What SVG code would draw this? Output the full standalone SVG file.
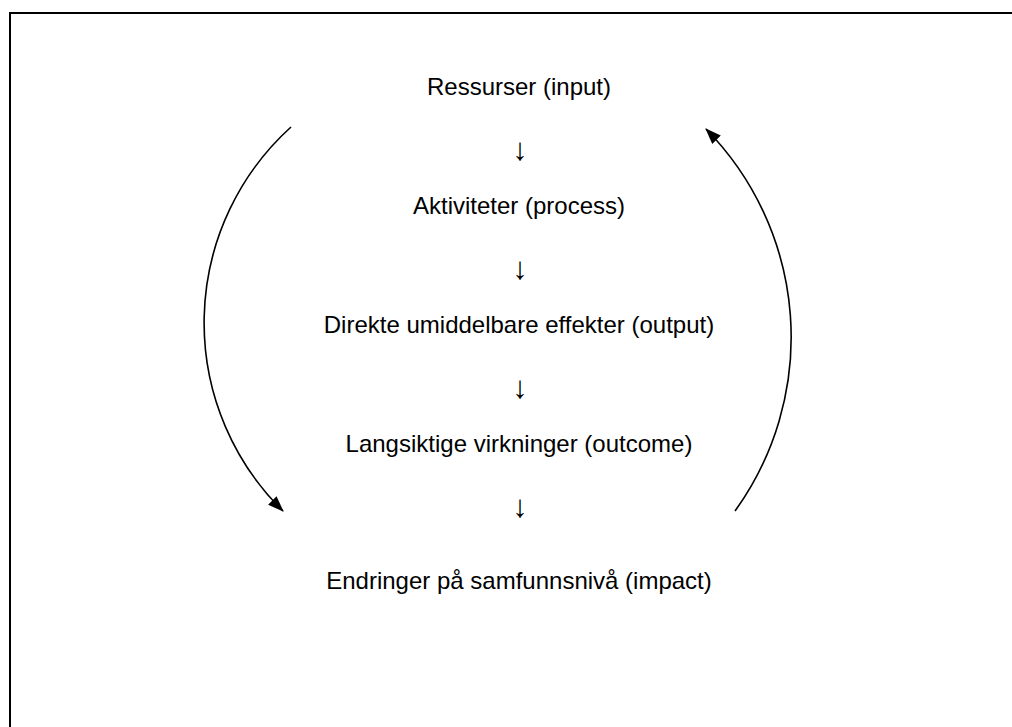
<svg xmlns="http://www.w3.org/2000/svg" width="1012" height="727" viewBox="0 0 1012 727">
<style>
.lbl{font-family:"Liberation Sans",Arial,sans-serif;font-size:24px;fill:#000;text-anchor:middle}
.dn{font-family:"Liberation Sans",Arial,sans-serif;font-size:31px;fill:#000;text-anchor:middle}
.arc{fill:none;stroke:#000;stroke-width:1.6}
</style>
<defs>
<marker id="ah" viewBox="0 0 16 12" refX="15" refY="6" markerWidth="16" markerHeight="12" markerUnits="userSpaceOnUse" orient="auto">
<path d="M0,0 L16,6 L0,12 Z" fill="#000"/>
</marker>
</defs>
<rect x="0" y="0" width="1012" height="727" fill="#fff"/>
<rect id="frame" x="10" y="13" width="1010" height="800" fill="none" stroke="#000" stroke-width="2"/>
<g id="n1"><text class="lbl" x="519" y="95">Ressurser (input)</text></g>
<g id="n2"><text class="lbl" x="519" y="214">Aktiviteter (process)</text></g>
<g id="n3"><text class="lbl" x="519" y="333">Direkte umiddelbare effekter (output)</text></g>
<g id="n4"><text class="lbl" x="519" y="452">Langsiktige virkninger (outcome)</text></g>
<g id="n5"><text class="lbl" x="519" y="589">Endringer på samfunnsnivå (impact)</text></g>
<g id="connectors">
<text class="dn" x="520" y="160">↓</text>
<text class="dn" x="520" y="279">↓</text>
<text class="dn" x="520" y="398">↓</text>
<text class="dn" x="520" y="517">↓</text>
<path class="arc" d="M291,127 A264,264 0 0 0 283,511" marker-end="url(#ah)"/>
<path class="arc" d="M735,511 A297,297 0 0 0 706,129" marker-end="url(#ah)"/>
</g>
</svg>
